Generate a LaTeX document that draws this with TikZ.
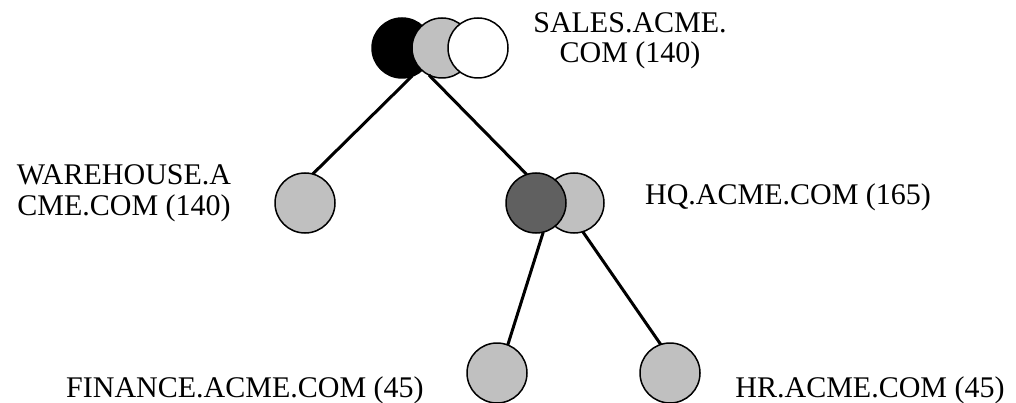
\documentclass[tikz,border=0pt]{standalone}
\usepackage{fontspec}
\setmainfont{Liberation Serif}
\definecolor{lgray}{HTML}{C0C0C0}
\definecolor{dgray}{HTML}{606060}
\begin{document}
\begin{tikzpicture}[x=1pt,y=-1pt,
  host/.style={circle,draw=black,line width=1.5pt,minimum size=60pt,inner sep=0pt,outer sep=0pt},
  link/.style={draw=black,line width=3pt},
  lbl/.style={font=\fontsize{30}{30}\selectfont,inner sep=0pt,align=center,anchor=base}]
\useasboundingbox (0,0) rectangle (1016,403);
% top cluster
\node[host,fill=black] (s1) at (402,48) {};
\node[host,fill=lgray] (s2) at (442,48) {};
\node[host,fill=white] (s3) at (478,48) {};
% warehouse
\node[host,fill=lgray] (w) at (305,203) {};
% HQ
\node[host,fill=lgray] (h2) at (574,203) {};
\node[host,fill=dgray] (h1) at (536,203) {};
% bottom
\node[host,fill=lgray] (f) at (497,373) {};
\node[host,fill=lgray] (r) at (670,373) {};
% links
\draw[link] (s1.-71) -- (w.75);
\draw[link] (s2.-116) -- (h1.108);
\draw[link] (h1.-76) -- (f.69);
\draw[link] (h2.-73) -- (r.108);
% labels
\node[lbl] (ls) at (630,63) {SALES.ACME.\\COM (140)};
\node[lbl] (lw) at (124,215) {WAREHOUSE.A\\CME.COM (140)};
\node[lbl] (lh) at (788,205) {HQ.ACME.COM (165)};
\node[lbl] (lf) at (245,397) {FINANCE.ACME.COM (45)};
\node[lbl] (lr) at (870,397) {HR.ACME.COM (45)};
\end{tikzpicture}
\end{document}
